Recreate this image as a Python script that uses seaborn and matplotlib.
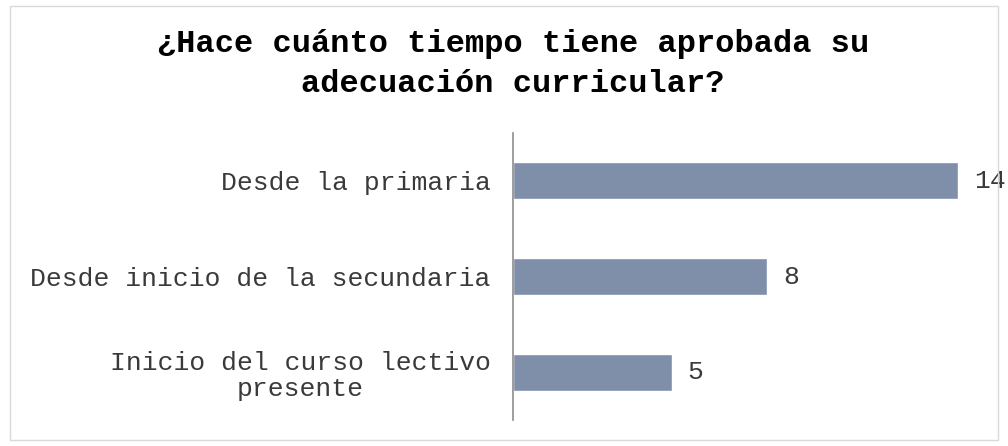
import pandas as pd
import seaborn as sns
import matplotlib.pyplot as plt
from matplotlib.patches import Rectangle

categories = ['Desde la primaria', 'Desde inicio de la secundaria',
              'Inicio del curso lectivo\npresente']
counts = [14, 8, 5]

data = pd.DataFrame({'categoria': categories, 'cantidad': counts})

sns.set_style('white')
plt.rcParams['font.family'] = ['Liberation Mono', 'DejaVu Sans Mono']

fig = plt.figure(figsize=(10.08, 4.46), dpi=100)
ax = fig.add_axes([513 / 1008, 26 / 446, 445 / 1008, 287 / 446])

sns.barplot(data=data, x='cantidad', y='categoria', color='#7F8FA9',
            saturation=1, width=0.39, ax=ax)

ax.set_xlim(0, 14)
ax.set_ylim(2.5, -0.5)
ax.set_xlabel('')
ax.set_ylabel('')
ax.set_xticks([])
for s in ['top', 'right', 'bottom']:
    ax.spines[s].set_visible(False)
ax.spines['left'].set_color('#8c8c8c')
ax.spines['left'].set_linewidth(1.2)
ax.tick_params(axis='y', length=0, pad=16, labelsize=19, labelcolor='#3a3a3a')
for lbl in ax.get_yticklabels():
    lbl.set_multialignment('center')
    lbl.set_linespacing(1.1)

for i, v in enumerate(counts):
    ax.text(v + 0.5, i, str(v), va='center', ha='left', fontsize=19,
            color='#3a3a3a', clip_on=False)

fig.text(513 / 1008, 1 - 64 / 446,
         '¿Hace cuánto tiempo tiene aprobada su\nadecuación curricular?',
         ha='center', va='center', fontsize=23, fontweight='bold',
         color='#000000', linespacing=1.4)

fig.patches.append(Rectangle((10 / 1008, 6 / 446), 988 / 1008, 434 / 446,
                             transform=fig.transFigure, fill=False,
                             edgecolor='#d9d9d9', linewidth=1))

fig.savefig('out.png', dpi=100)
plt.close()
